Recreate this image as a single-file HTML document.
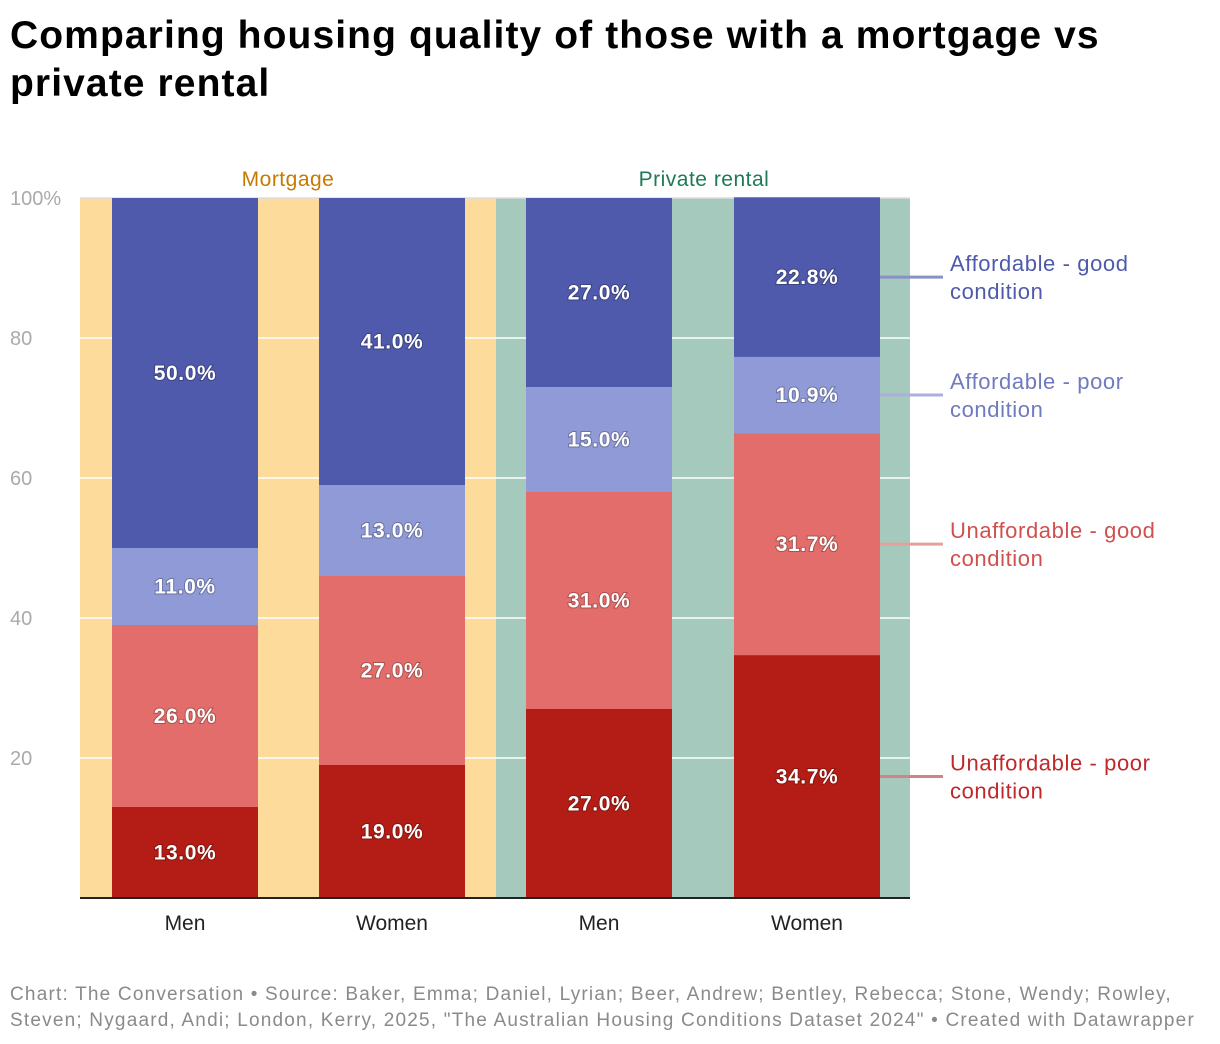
<!DOCTYPE html>
<html><head><meta charset="utf-8">
<style>
body{margin:0;background:#fff;font-family:"Liberation Sans",Roboto,sans-serif;}
#wrap{position:relative;width:1220px;height:1044px;overflow:hidden}
h1{position:absolute;left:10px;top:12px;margin:0;font-size:39px;line-height:48px;font-weight:bold;color:#000;letter-spacing:1.1px}
#foot{position:absolute;left:10px;top:982px;font-size:19px;line-height:26px;color:#8a8a8a;letter-spacing:1.2px}
</style></head><body>
<div id="wrap">
<h1>Comparing housing quality of those with a mortgage vs<br>private rental</h1>
<svg id="chart" width="1220" height="1044" style="position:absolute;left:0;top:0"></svg>
<div id="foot">Chart: The Conversation • Source: Baker, Emma; Daniel, Lyrian; Beer, Andrew; Bentley, Rebecca; Stone, Wendy; Rowley,<br>Steven; Nygaard, Andi; London, Kerry, 2025, "The Australian Housing Conditions Dataset 2024" • Created with Datawrapper</div>
</div>
<script>
const categories=["Men","Women","Men","Women"];
const groups=["Mortgage","Private rental"];
const seriesNames=["Unaffordable - poor condition","Unaffordable - good condition","Affordable - poor condition","Affordable - good condition"];
const unaffPoor=[13.0,19.0,27.0,34.7];
const unaffGood=[26.0,27.0,31.0,31.7];
const affPoor=[11.0,13.0,15.0,10.9];
const affGood=[50.0,41.0,27.0,22.8];
const yTicks=[20,40,60,80,100];
const series=[unaffPoor,unaffGood,affPoor,affGood];
const colors=["#b31d15","#e36d6a","#8f9ad6","#4f5aad"];
const labelColors=["#c0282a","#d0504d","#6f7abf","#4f5aad"];
const lineColors=["#cf8583","#e3a09e","#a9b0dc","#8890c8"];
const NS="http://www.w3.org/2000/svg";
const svg=document.getElementById('chart');
const X0=80,X1=910,Y0=898,Y1=198;
const y=v=>Y0-(v/100)*(Y0-Y1);
const barX=i=>[112,319,526,734][i];
const BW=146;
function el(t,a){const e=document.createElementNS(NS,t);for(const k in a)e.setAttribute(k,a[k]);svg.appendChild(e);return e;}
let bg=el('rect',{x:X0,y:Y1,width:416,height:Y0-Y1,fill:'#fddb9a'});


bg=el('rect',{x:496,y:Y1,width:X1-496,height:Y0-Y1,fill:'#a5cabd'});


yTicks.forEach(t=>{
 const g=el('line',{x1:X0,x2:X1,y1:y(t),y2:y(t),stroke:t==100?'#ddd':'#fff','stroke-width':1.5});
 
 
 const tx=el('text',{x:10,y:y(t)+7,fill:'#aaa','font-size':20});
 tx.textContent=t==100?'100%':t;
 
 
});
[[288,'#c77a00'],[704,'#1e7a55']].forEach((g,i)=>{
 const t=el('text',{x:g[0],y:186,fill:g[1],'font-size':21,'text-anchor':'middle','letter-spacing':0.5});
 t.textContent=groups[i];
 
 
});
categories.forEach((c,i)=>{
 let cum=0;
 series.forEach((s,j)=>{
  const v=s[i];
  const r=el('rect',{x:barX(i),y:y(cum+v),width:BW,height:y(cum)-y(cum+v),fill:colors[j]});
  
  
  const t=el('text',{x:barX(i)+BW/2,y:(y(cum)+y(cum+v))/2+7,fill:'#fff','font-size':21,'font-weight':'bold','text-anchor':'middle','letter-spacing':0.6,style:'paint-order:stroke;stroke:rgba(0,0,0,0.25);stroke-width:2px'});
  t.textContent=v.toFixed(1)+'%';
  
  
  cum+=v;
 });
 const t=el('text',{x:barX(i)+BW/2,y:930,fill:'#222','font-size':21,'text-anchor':'middle'});
 t.textContent=c;
 
 
});
const ax=el('line',{x1:X0,x2:X1,y1:Y0,y2:Y0,stroke:'#222','stroke-width':2});


let cum=0;const last=categories.length-1;
series.forEach((s,j)=>{
 const v=s[last];const mid=(y(cum)+y(cum+v))/2;cum+=v;
 const ln=el('line',{x1:880,x2:943,y1:mid,y2:mid,stroke:lineColors[j],'stroke-width':3});
 
 
 const parts=seriesNames[j].split(' condition');
 const t=el('text',{x:950,y:mid-6,fill:labelColors[j],'font-size':22,'letter-spacing':0.6});
 
 
 const a=document.createElementNS(NS,'tspan');a.setAttribute('x',950);a.textContent=parts[0];t.appendChild(a);
 const b=document.createElementNS(NS,'tspan');b.setAttribute('x',950);b.setAttribute('dy',28);b.textContent='condition';t.appendChild(b);
});
</script>
</body></html>
